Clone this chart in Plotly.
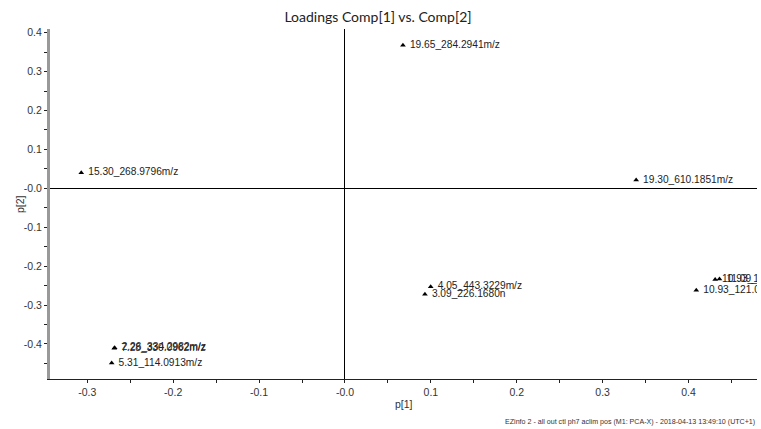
import plotly.graph_objects as go

# PCA loadings for the first two components
labels = [
    "19.65_284.2941m/z",
    "15.30_268.9796m/z",
    "19.30_610.1851m/z",
    "4.05_443.3229m/z",
    "3.09_226.1680n",
    "10.93_121.0",
    "10.93_119.0331m/z",
    "11.09_133.0931m/z",
    "7.28_330.0962m/z",
    "2.26_334.2982m/z",
    "5.31_114.0913m/z",
]
p1 = [0.0675, -0.307, 0.339, 0.0998, 0.0931, 0.409, 0.431, 0.436, -0.2686, -0.2681, -0.2716]
p2 = [0.368, 0.040, 0.0213, -0.253, -0.272, -0.262, -0.234, -0.233, -0.411, -0.410, -0.449]

x_ticks = [round(-0.30 + 0.05 * i, 2) for i in range(16)]
y_ticks = [round(-0.45 + 0.05 * i, 2) for i in range(18)]


def tick_text(v):
    if abs(round(v * 10) - v * 10) > 1e-6:
        return ""
    if abs(v) < 1e-9:
        return "-0.0"
    return f"{v:.1f}"


fig = go.Figure()
fig.add_trace(go.Scatter(
    x=p1, y=p2, text=labels,
    mode="markers+text",
    texttemplate=" %{text}",
    textposition="middle right",
    marker=dict(symbol="triangle-up", size=5, color="black"),
    textfont=dict(family="Liberation Sans, Arial, sans-serif", size=10.2, color="#222"),
    cliponaxis=True,
    showlegend=False,
    hoverinfo="skip",
))

fig.update_layout(
    width=761, height=429,
    margin=dict(l=50, r=4, t=29, b=50),
    paper_bgcolor="white", plot_bgcolor="white",
    title=dict(
        text="Loadings Comp[1] vs. Comp[2]",
        x=378 / 761, xanchor="center", y=1 - 17 / 429, yanchor="middle",
        font=dict(family="Lato, Open Sans, sans-serif", size=14, color="#222"),
    ),
    xaxis=dict(
        range=[-0.3434, 0.4797],
        tickvals=x_ticks, ticktext=[tick_text(v) for v in x_ticks],
        ticks="outside", ticklen=3, tickcolor="#222",
        showline=True, linecolor="#222", linewidth=1,
        showgrid=False, zeroline=True, zerolinecolor="black", zerolinewidth=1,
        tickfont=dict(family="Liberation Sans, Arial, sans-serif", size=10.5, color="#333"),
    ),
    yaxis=dict(
        range=[-0.490, 0.4095],
        tickvals=y_ticks, ticktext=[tick_text(v) for v in y_ticks],
        ticks="outside", ticklen=3, tickcolor="#222",
        showline=True, linecolor="#999", linewidth=3,
        showgrid=False, zeroline=True, zerolinecolor="black", zerolinewidth=1,
        tickfont=dict(family="Liberation Sans, Arial, sans-serif", size=10.5, color="#333"),
    ),
    annotations=[
        dict(text="p[1]", xref="paper", yref="paper", x=0.5, y=-(404 - 379) / 350,
             xanchor="center", yanchor="middle", showarrow=False,
             font=dict(family="Liberation Sans, Arial, sans-serif", size=10.5, color="#333")),
        dict(text="p[2]", xref="paper", yref="paper", x=-(50 - 20) / 707, y=0.5,
             xanchor="center", yanchor="middle", showarrow=False, textangle=-90,
             font=dict(family="Liberation Sans, Arial, sans-serif", size=10.5, color="#333")),
        dict(text="EZinfo 2 - all out ctl ph7 aclim pos (M1: PCA-X) - 2018-04-13 13:49:10 (UTC+1)",
             xref="paper", yref="paper", x=1.0, y=-(422 - 379) / 350,
             xanchor="right", yanchor="middle", showarrow=False,
             font=dict(family="Liberation Sans, Arial, sans-serif", size=7.1, color="#333")),
    ],
)

fig.write_html("out.html")
